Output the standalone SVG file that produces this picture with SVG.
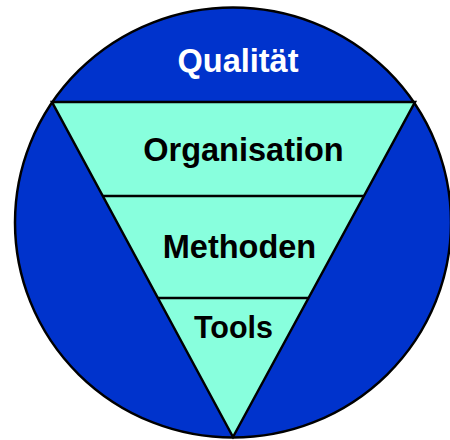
<svg xmlns="http://www.w3.org/2000/svg" width="450" height="440" viewBox="0 0 450 440">
  <style>
    .outline { stroke: #000; stroke-width: 2.5; stroke-linejoin: miter; }
    .disc { fill: #0033CC; }
    .funnel { fill: #88FFDD; }
    .divider { stroke: #000; stroke-width: 2.5; fill: none; }
    .label { font-family: "Liberation Sans", Arial, sans-serif; font-weight: bold; text-anchor: middle; }
    .light { fill: #FFFFFF; }
    .dark { fill: #000000; }
  </style>

  <g id="qualitaet">
    <ellipse class="disc outline" cx="233" cy="222.5" rx="218" ry="215"/>
    <text class="label light" x="238" y="72" font-size="32.5">Qualität</text>
  </g>

  <g id="funnel">
    <polygon class="funnel outline" points="52,102 415,102 233,437"/>
  </g>

  <g id="connectors">
    <line class="divider" x1="103" y1="196" x2="364" y2="196"/>
    <line class="divider" x1="158" y1="298" x2="308" y2="298"/>
  </g>

  <g id="organisation">
    <text class="label dark" x="243.5" y="161" font-size="32.5">Organisation</text>
  </g>

  <g id="methoden">
    <text class="label dark" x="239.5" y="258" font-size="32.5">Methoden</text>
  </g>

  <g id="tools">
    <text class="label dark" x="233.5" y="338" font-size="30.5">Tools</text>
  </g>
</svg>
